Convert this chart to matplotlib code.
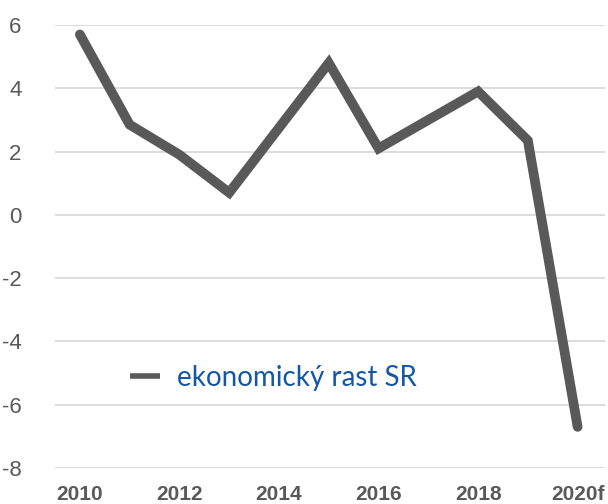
import matplotlib
matplotlib.use("Agg")
import matplotlib.pyplot as plt

years = [2010, 2011, 2012, 2013, 2014, 2015, 2016, 2017, 2018, 2019, 2020]
growth = [5.7, 2.85, 1.9, 0.7, 2.75, 4.8, 2.1, 3.0, 3.9, 2.35, -6.7]
tick_years = [2010, 2012, 2014, 2016, 2018, 2020]
tick_labels = ["2010", "2012", "2014", "2016", "2018", "2020f"]
yticks = [-8, -6, -4, -2, 0, 2, 4, 6]

narrow = ["Liberation Sans Narrow", "Liberation Sans", "DejaVu Sans"]

fig = plt.figure(figsize=(6.08, 5.04), dpi=100)
ax = fig.add_axes([55 / 608, 1 - 468 / 504, 550 / 608, 443 / 504])

ax.plot(years, growth, color="#595959", linewidth=7, solid_capstyle="round",
        solid_joinstyle="miter", label="ekonomický rast SR", zorder=3)

ax.set_xlim(2009.5, 2020.55)
ax.set_ylim(-8, 6)
ax.set_yticks(yticks)
ax.set_yticklabels([str(v) for v in yticks], family=narrow, fontsize=16, color="#595959")
ax.set_xticks(tick_years)
ax.set_xticklabels(tick_labels, family=narrow, fontsize=15, fontweight="bold", color="#595959")
ax.tick_params(axis="y", length=0, pad=24)
ax.tick_params(axis="x", length=0, pad=12)
ax.grid(axis="y", color="#d9d9d9", linewidth=1.3)
ax.set_axisbelow(True)
for s in ax.spines.values():
    s.set_visible(False)

leg = ax.legend(loc="center left", bbox_to_anchor=(0.09, 0.203), frameon=False,
                handlelength=1.1, handletextpad=0.6,
                prop={"family": ["Lato", "DejaVu Sans"], "size": 20})
for t in leg.get_texts():
    t.set_color("#1357a6")
for h in leg.get_lines():
    h.set_linewidth(4)
    h.set_solid_capstyle("butt")

fig.savefig("out.png", dpi=100)
